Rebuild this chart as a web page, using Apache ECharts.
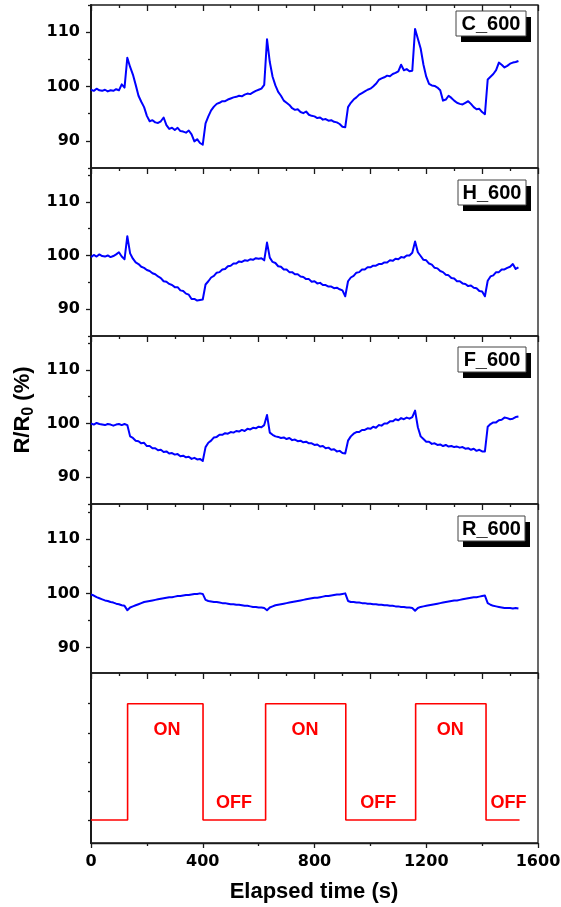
<!DOCTYPE html>
<html>
<head>
<meta charset="utf-8">
<script src="https://cdn.jsdelivr.net/npm/echarts@6/dist/echarts.min.js"></script>
<style>
  html, body { margin: 0; padding: 0; background: #fff; }
  #chart { width: 561px; height: 907px; }
</style>
</head>
<body>
<div id="chart"></div>
<script>
// Resistance response R/R0 (%) of four samples, logged every 10 s.
const sampleStep = 10; // seconds between readings

const cValues = [
  99.4, 99.2, 99.6, 99.3, 99.2, 99.4, 99.1, 99.3, 99.2, 99.5,
  99.3, 100.4, 99.8, 105.3, 103.6, 102.2, 100.3, 98.3, 97.2, 96.2,
  94.6, 93.6, 93.8, 93.4, 93.3, 93.6, 94.3, 92.9, 92.2, 92.4,
  92.0, 92.4, 91.8, 91.7, 91.5, 91.9, 91.2, 89.9, 90.3, 89.6,
  89.3, 93.2, 94.5, 95.6, 96.3, 96.8, 97.0, 97.3, 97.3, 97.6,
  97.8, 98.0, 98.1, 98.3, 98.2, 98.5, 98.7, 98.6, 98.9, 99.2,
  99.4, 99.6, 100.3, 108.7, 104.5, 101.8, 100.2, 99.0, 98.3, 97.4,
  97.0, 96.6, 96.0, 95.7, 95.8, 95.3, 95.1, 95.4, 94.8, 94.6,
  94.5, 94.2, 94.3, 93.9, 94.0, 93.7, 93.8, 93.5, 93.4, 93.1,
  92.6, 92.5, 96.2, 97.0, 97.6, 98.0, 98.5, 98.8, 99.1, 99.4,
  99.6, 100.0, 100.5, 101.2, 101.5, 101.7, 102.0, 101.9, 102.3, 102.5,
  102.8, 104.0, 103.0, 103.2, 102.8, 102.9, 110.6, 108.8, 107.0, 104.0,
  101.8, 100.5, 100.2, 100.1, 99.8, 99.3, 97.4, 97.6, 98.3, 97.9,
  97.4, 97.0, 96.8, 96.7, 97.0, 97.3, 96.8, 96.2, 95.8, 95.9,
  95.3, 94.9, 101.3, 101.8, 102.3, 103.0, 104.4, 104.0, 103.5, 103.8,
  104.2, 104.4, 104.5, 104.7
];

const hValues = [
  99.7, 100.1, 99.8, 100.2, 99.9, 99.8, 100.0, 99.7, 99.9, 100.2,
  100.6, 99.8, 99.3, 103.6, 100.4, 99.4, 98.7, 98.4, 97.9, 97.7,
  97.3, 97.1, 96.7, 96.5, 96.1, 95.8, 95.2, 95.1, 94.7, 94.5,
  94.1, 94.1, 93.5, 93.4, 92.9, 92.7, 91.9, 91.9, 91.6, 91.7,
  91.8, 94.6, 95.2, 95.9, 96.2, 96.8, 96.9, 97.4, 97.5, 98.0,
  98.1, 98.5, 98.5, 98.9, 98.8, 99.1, 99.0, 99.3, 99.2, 99.5,
  99.4, 99.5, 99.1, 102.4, 99.6, 98.8, 98.6, 98.0, 97.9, 97.4,
  97.4, 96.9, 96.9, 96.5, 96.5, 96.1, 96.0, 95.6, 95.6, 95.1,
  95.2, 94.8, 94.9, 94.5, 94.5, 94.2, 94.2, 93.9, 94.0, 93.7,
  93.5, 92.4, 95.2, 95.9, 96.2, 96.8, 96.9, 97.4, 97.4, 97.8,
  97.8, 98.1, 98.1, 98.4, 98.4, 98.7, 98.7, 99.1, 99.0, 99.4,
  99.3, 99.7, 99.6, 100.0, 100.0, 100.5, 102.6, 100.6, 99.9, 99.2,
  99.1, 98.5, 98.3, 97.7, 97.6, 97.1, 96.9, 96.4, 96.3, 95.8,
  95.7, 95.2, 95.2, 94.8, 94.7, 94.3, 94.4, 94.0, 93.9, 93.4,
  93.3, 92.4, 95.3, 96.1, 96.3, 96.9, 96.9, 97.4, 97.4, 97.7,
  97.9, 98.4, 97.5, 97.8
];

const fValues = [
  100.0, 99.8, 100.1, 99.9, 99.8, 99.7, 99.9, 99.8, 99.6, 99.8,
  99.9, 99.7, 99.9, 99.7, 97.6, 97.3, 96.8, 96.7, 96.3, 96.4,
  95.8, 95.8, 95.4, 95.4, 95.0, 95.1, 94.7, 94.8, 94.4, 94.5,
  94.2, 94.3, 93.9, 94.0, 93.7, 93.8, 93.4, 93.6, 93.3, 93.4,
  93.0, 95.6, 96.4, 96.8, 97.4, 97.5, 97.9, 97.9, 98.2, 98.1,
  98.4, 98.3, 98.6, 98.5, 98.8, 98.6, 99.0, 98.9, 99.2, 99.1,
  99.4, 99.3, 99.7, 101.6, 98.3, 97.9, 97.6, 97.5, 97.3, 97.4,
  97.1, 97.3, 96.9, 97.0, 96.7, 96.8, 96.5, 96.6, 96.3, 96.3,
  96.0, 96.1, 95.7, 95.8, 95.4, 95.5, 95.1, 95.2, 94.8, 94.9,
  94.5, 94.4, 96.8, 97.6, 98.1, 98.4, 98.4, 98.8, 98.8, 99.1,
  99.0, 99.4, 99.2, 99.7, 99.6, 100.0, 100.0, 100.4, 100.4, 100.8,
  100.6, 101.0, 100.8, 101.1, 100.9, 101.2, 102.4, 99.3, 97.6, 97.1,
  96.6, 96.6, 96.2, 96.3, 96.0, 96.1, 95.8, 96.0, 95.7, 95.8,
  95.6, 95.7, 95.5, 95.6, 95.3, 95.4, 95.1, 95.3, 94.9, 95.1,
  94.8, 94.8, 99.4, 99.9, 100.2, 100.2, 100.6, 100.7, 101.1, 101.0,
  100.8, 100.9, 101.2, 101.3
];

const rValues = [
  99.8, 99.6, 99.3, 99.1, 98.9, 98.7, 98.6, 98.4, 98.3, 98.1,
  98.0, 97.8, 97.7, 96.9, 97.4, 97.6, 97.8, 98.0, 98.2, 98.4,
  98.5, 98.6, 98.7, 98.8, 98.9, 99.0, 99.1, 99.2, 99.3, 99.3,
  99.4, 99.5, 99.5, 99.6, 99.7, 99.7, 99.8, 99.9, 99.9, 100.0,
  99.9, 98.8, 98.6, 98.5, 98.4, 98.4, 98.3, 98.2, 98.2, 98.1,
  98.0, 98.0, 97.9, 97.9, 97.8, 97.7, 97.7, 97.6, 97.5, 97.5,
  97.4, 97.4, 97.3, 96.9, 97.4, 97.6, 97.8, 97.9, 98.0, 98.1,
  98.2, 98.3, 98.4, 98.5, 98.6, 98.7, 98.8, 98.9, 99.0, 99.1,
  99.2, 99.2, 99.3, 99.4, 99.5, 99.5, 99.6, 99.7, 99.8, 99.8,
  99.9, 100.0, 98.6, 98.4, 98.4, 98.3, 98.3, 98.2, 98.2, 98.1,
  98.1, 98.0, 98.0, 97.9, 97.9, 97.8, 97.8, 97.7, 97.7, 97.6,
  97.6, 97.5, 97.5, 97.4, 97.4, 97.3, 96.8, 97.3, 97.5, 97.6,
  97.7, 97.8, 97.9, 98.0, 98.1, 98.2, 98.3, 98.4, 98.5, 98.6,
  98.7, 98.7, 98.8, 98.9, 99.0, 99.1, 99.2, 99.3, 99.3, 99.4,
  99.5, 99.6, 98.2, 97.9, 97.7, 97.6, 97.5, 97.4, 97.3, 97.3,
  97.3, 97.2, 97.3, 97.2
];

const panelNames = ['C_600', 'H_600', 'F_600', 'R_600'];
const panelSeries = [cValues, hValues, fValues, rValues];

// Light switching: state changes (0 = off, 1 = on)
const switchTimes = [0, 131, 401, 625, 912, 1162, 1414, 1534];
const switchStates = [0, 1, 0, 1, 0, 1, 0, 0];
const stateTexts = ['ON', 'OFF', 'ON', 'OFF', 'ON', 'OFF'];
const stateTextTimes = [272, 512, 766, 1028, 1286, 1494];
const stateTextLevels = [0.774, 0.149, 0.774, 0.149, 0.774, 0.149];

const yMajorTicks = [90, 100, 110];
const yMinorTicks = [85, 95, 105, 115];
const switchTicks = [0, 0.25, 0.5, 0.75, 1];

// ---- layout ----
const ARIAL = '"Liberation Sans", Arial, sans-serif';
const DEJAVU = '"DejaVu Sans", sans-serif';
const INK = '#1a1a1a';
const grids = [
  { top: 5, height: 163, yMin: 85, yMax: 115 },
  { top: 168, height: 168, yMin: 85, yMax: 116.3 },
  { top: 336, height: 168, yMin: 85, yMax: 116.3 },
  { top: 504, height: 169, yMin: 85.3, yMax: 116.5 },
  { top: 673, height: 170, yMin: -0.198, yMax: 1.264 }
];
const boxes = [
  { x: 456, y: 11, w: 70, h: 25 },
  { x: 458, y: 180, w: 68, h: 25 },
  { x: 458, y: 347, w: 68, h: 25 },
  { x: 458, y: 516, w: 67, h: 25 }
];

const gridOpts = grids.map(g => ({
  left: 91, right: 23, top: g.top, height: g.height,
  containLabel: false, outerBoundsMode: 'none',
  show: true, borderColor: INK, borderWidth: 1.3, backgroundColor: 'transparent'
}));

// top edge of every panel: inward ticks
const xAxes = grids.map((g, i) => ({
  type: 'value', gridIndex: i, position: 'top', min: 0, max: 1600, interval: 200,
  axisLine: { show: false, onZero: false },
  axisTick: { show: true, inside: true, length: 6, lineStyle: { color: INK, width: 1.3 } },
  minorTick: { show: true, splitNumber: 2, length: 3, lineStyle: { color: INK, width: 1.3 } },
  axisLabel: { show: false },
  splitLine: { show: false }, minorSplitLine: { show: false }
}));
// shared time axis under the bottom panel
xAxes.push({
  type: 'value', gridIndex: 4, position: 'bottom', min: 0, max: 1600, interval: 400,
  axisLine: { show: true, onZero: false, lineStyle: { color: INK, width: 1.3 } },
  axisTick: { show: true, inside: false, length: 5, lineStyle: { color: INK, width: 1.3 } },
  minorTick: { show: true, splitNumber: 2, length: 3, lineStyle: { color: INK, width: 1.3 } },
  axisLabel: { show: true, margin: 11, color: '#000', fontFamily: DEJAVU, fontWeight: 'bold', fontSize: 16,
               formatter: v => String(v) },
  splitLine: { show: false }, minorSplitLine: { show: false }
});

const yAxes = [];
grids.forEach((g, i) => {
  const isSwitch = i === 4;
  yAxes.push({
    type: 'value', gridIndex: i, position: 'left', min: g.yMin, max: g.yMax,
    axisLine: { show: true, onZero: false, lineStyle: { color: INK, width: 2 } },
    axisTick: { show: true, length: isSwitch ? 3 : 5, customValues: isSwitch ? switchTicks : yMajorTicks,
                lineStyle: { color: INK, width: 1.3 } },
    axisLabel: isSwitch ? { show: false } : {
      show: true, customValues: yMajorTicks, margin: 11, color: '#000',
      fontFamily: DEJAVU, fontWeight: 'bold', fontSize: 16
    },
    splitLine: { show: false }
  });
  yAxes.push({
    type: 'value', gridIndex: i, position: 'left', min: g.yMin, max: g.yMax,
    axisLine: { show: false, onZero: false },
    axisTick: { show: !isSwitch, length: 3, customValues: yMinorTicks, lineStyle: { color: INK, width: 1.3 } },
    axisLabel: { show: false },
    splitLine: { show: false }
  });
});

const series = panelSeries.map((vals, i) => ({
  type: 'line', name: panelNames[i], xAxisIndex: i, yAxisIndex: 2 * i,
  data: vals.map((v, k) => [k * sampleStep, v]),
  symbol: 'none', clip: true,
  lineStyle: { color: '#0000ff', width: 2, join: 'round' }
}));
series.push({
  type: 'line', name: 'light', xAxisIndex: 4, yAxisIndex: 8, step: 'end',
  data: switchTimes.map((t, k) => [t, switchStates[k]]),
  symbol: 'none', lineStyle: { color: '#ff0000', width: 1.6 }
});
series.push({
  type: 'scatter', name: 'state', xAxisIndex: 4, yAxisIndex: 8,
  data: stateTextTimes.map((t, k) => ({ value: [t, stateTextLevels[k]], name: stateTexts[k] })),
  symbolSize: 1, itemStyle: { color: 'rgba(0,0,0,0)' },
  label: { show: true, position: 'inside', formatter: p => p.name, color: '#ff0000',
           textBorderWidth: 0, opacity: 1,
           fontFamily: ARIAL, fontWeight: 'bold', fontSize: 18 }
});

// sample name tags with a drop shadow
const graphics = [];
boxes.forEach((b, i) => {
  graphics.push({ type: 'rect', shape: { x: b.x + 5, y: b.y + 6, width: b.w, height: b.h }, style: { fill: '#000' }, z: 100 });
  graphics.push({ type: 'rect', shape: { x: b.x, y: b.y, width: b.w, height: b.h }, style: { fill: '#fff', stroke: '#444', lineWidth: 1 }, z: 101 });
  graphics.push({ type: 'text', x: b.x + b.w / 2, y: b.y + b.h / 2 + 1, z: 102,
    style: { text: panelNames[i], fill: '#000', font: 'bold 20px ' + ARIAL, align: 'center', verticalAlign: 'middle' } });
});
// axis titles
graphics.push({ type: 'text', x: 314, y: 892, z: 50,
  style: { text: 'Elapsed time (s)', fill: '#000', font: 'bold 22px ' + ARIAL, align: 'center', verticalAlign: 'middle' } });
graphics.push({ type: 'text', x: 23, y: 410, rotation: Math.PI / 2, z: 50,
  style: {
    text: '{a|R/R}{b|0}{a| (%)}', align: 'center', verticalAlign: 'middle',
    rich: {
      a: { font: 'bold 22px ' + ARIAL, fill: '#000', lineHeight: 28, verticalAlign: 'middle' },
      b: { font: 'bold 16px ' + ARIAL, fill: '#000', lineHeight: 28, verticalAlign: 'bottom' }
    }
  } });

const chart = echarts.init(document.getElementById('chart'), null, { renderer: 'canvas' });
chart.setOption({
  animation: false,
  backgroundColor: '#fff',
  grid: gridOpts,
  xAxis: xAxes,
  yAxis: yAxes,
  series: series,
  graphic: graphics
});
</script>
</body>
</html>
